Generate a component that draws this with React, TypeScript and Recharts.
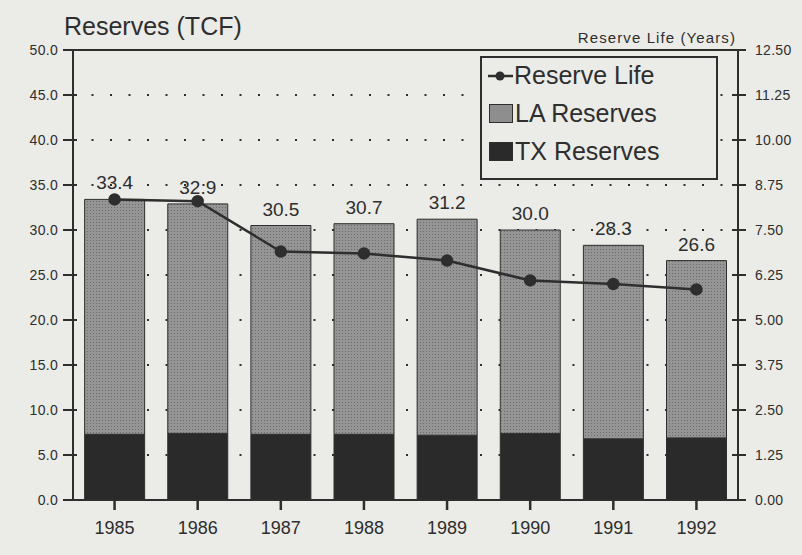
import React from 'react';
import {
  ComposedChart,
  Bar,
  Line,
  XAxis,
  YAxis,
  CartesianGrid,
  ReferenceLine,
  LabelList,
} from 'recharts';

const years = ['1985', '1986', '1987', '1988', '1989', '1990', '1991', '1992'];
const totalReserves = [33.4, 32.9, 30.5, 30.7, 31.2, 30.0, 28.3, 26.6];
const txReserves = [7.3, 7.4, 7.3, 7.3, 7.2, 7.4, 6.8, 6.9];
const reserveLife = [8.35, 8.3, 6.9, 6.85, 6.65, 6.1, 6.0, 5.85];
const leftTicks = [0, 5, 10, 15, 20, 25, 30, 35, 40, 45, 50];
const rightTicks = [0, 1.25, 2.5, 3.75, 5, 6.25, 7.5, 8.75, 10, 11.25, 12.5];

const data = years.map((y, i) => ({
  year: y,
  tx: txReserves[i],
  la: +(totalReserves[i] - txReserves[i]).toFixed(1),
  total: totalReserves[i],
  life: reserveLife[i],
}));

const FONT = '"Liberation Sans", Arial, sans-serif';
const INK = '#2e2e2e';
const BG = '#ebebe8';

// tick marks that cross the axis line, like the printed original
const CrossTick = (props: any) => {
  const { x, y, payload, side, digits } = props;
  const left = side === 'left';
  const ax = left ? x + 8 : x - 10;
  return (
    <g>
      <line x1={ax - 8} y1={y} x2={ax + 6} y2={y} stroke={INK} strokeWidth={2} />
      <text
        x={left ? ax - 13 : ax + 15}
        y={y}
        dy={5}
        textAnchor={left ? 'end' : 'start'}
        fill={INK}
        fontSize={14}
        fontFamily={FONT}
        letterSpacing={0.3}
      >
        {Number(payload.value).toFixed(digits)}
      </text>
    </g>
  );
};

const LegendBox = () => (
  <div
    style={{
      position: 'absolute',
      left: 480,
      top: 56,
      width: 238,
      height: 124,
      border: `2px solid ${INK}`,
      background: BG,
      fontFamily: FONT,
      fontSize: 25,
      color: INK,
      boxSizing: 'border-box',
    }}
  >
    <div style={{ position: 'absolute', left: 5, top: 3, display: 'flex', alignItems: 'center' }}>
      <svg width={27} height={20}>
        <line x1={1} y1={10} x2={26} y2={10} stroke={INK} strokeWidth={2.5} />
        <circle cx={13} cy={10} r={4.5} fill={INK} />
      </svg>
      <span>Reserve Life</span>
    </div>
    <div style={{ position: 'absolute', left: 7, top: 41, display: 'flex', alignItems: 'center' }}>
      <div style={{ width: 22, height: 17, background: '#8e8e8e', border: `1px solid ${INK}`, marginRight: 2 }} />
      <span>LA Reserves</span>
    </div>
    <div style={{ position: 'absolute', left: 7, top: 79, display: 'flex', alignItems: 'center' }}>
      <div style={{ width: 22, height: 17, background: '#2a2a2a', border: `1px solid ${INK}`, marginRight: 2 }} />
      <span>TX Reserves</span>
    </div>
  </div>
);

export default function App() {
  return (
    <div style={{ position: 'absolute', left: 0, top: 0, width: 802, height: 555, background: BG, fontFamily: FONT }}>
      <div style={{ position: 'absolute', left: 64, top: 12, fontSize: 25, color: INK }}>Reserves (TCF)</div>
      <div style={{ position: 'absolute', right: 66, top: 29, fontSize: 15, letterSpacing: 1.1, color: INK }}>
        Reserve Life (Years)
      </div>
      <ComposedChart
        width={802}
        height={555}
        data={data}
        margin={{ top: 50, right: 0, bottom: 10, left: 0 }}
        barCategoryGap="14%"
      >
        <defs>
          <pattern id="laDots" width={3} height={3} patternUnits="userSpaceOnUse">
            <rect width={3} height={3} fill="#959595" />
            <rect width={1} height={1} fill="#6c6c6c" />
          </pattern>
        </defs>
        <CartesianGrid
          yAxisId="l"
          horizontal
          vertical={false}
          stroke={INK}
          strokeWidth={2}
          strokeDasharray="2 16.5"
        />
        <XAxis
          dataKey="year"
          height={45}
          axisLine={{ stroke: INK, strokeWidth: 2 }}
          tickLine={{ stroke: INK, strokeWidth: 2.5 }}
          tickSize={10}
          tick={{ fill: INK, fontSize: 18, fontFamily: FONT, dy: 9 }}
        />
        <YAxis
          yAxisId="l"
          orientation="left"
          width={73}
          domain={[0, 50]}
          ticks={leftTicks}
          interval={0}
          axisLine={{ stroke: INK, strokeWidth: 2 }}
          tickLine={false}
          tickSize={8}
          tick={<CrossTick side="left" digits={1} />}
        />
        <YAxis
          yAxisId="r"
          orientation="right"
          width={64}
          domain={[0, 12.5]}
          ticks={rightTicks}
          interval={0}
          axisLine={{ stroke: INK, strokeWidth: 2 }}
          tickLine={false}
          tickSize={10}
          tick={<CrossTick side="right" digits={2} />}
        />
        <ReferenceLine yAxisId="l" y={50} stroke={INK} strokeWidth={2} />
        <Bar yAxisId="l" dataKey="tx" stackId="r" fill="#2a2a2a" stroke={INK} strokeWidth={1} isAnimationActive={false} />
        <Bar yAxisId="l" dataKey="la" stackId="r" fill="url(#laDots)" stroke={INK} strokeWidth={1} isAnimationActive={false}>
          <LabelList
            dataKey="total"
            position="top"
            offset={10}
            formatter={(v: number) => v.toFixed(1)}
            style={{ fill: INK, fontSize: 19, fontFamily: FONT }}
          />
        </Bar>
        <Line
          yAxisId="r"
          dataKey="life"
          stroke={INK}
          strokeWidth={2.5}
          dot={{ r: 5, fill: INK, stroke: INK }}
          isAnimationActive={false}
        />
      </ComposedChart>
      <LegendBox />
    </div>
  );
}
